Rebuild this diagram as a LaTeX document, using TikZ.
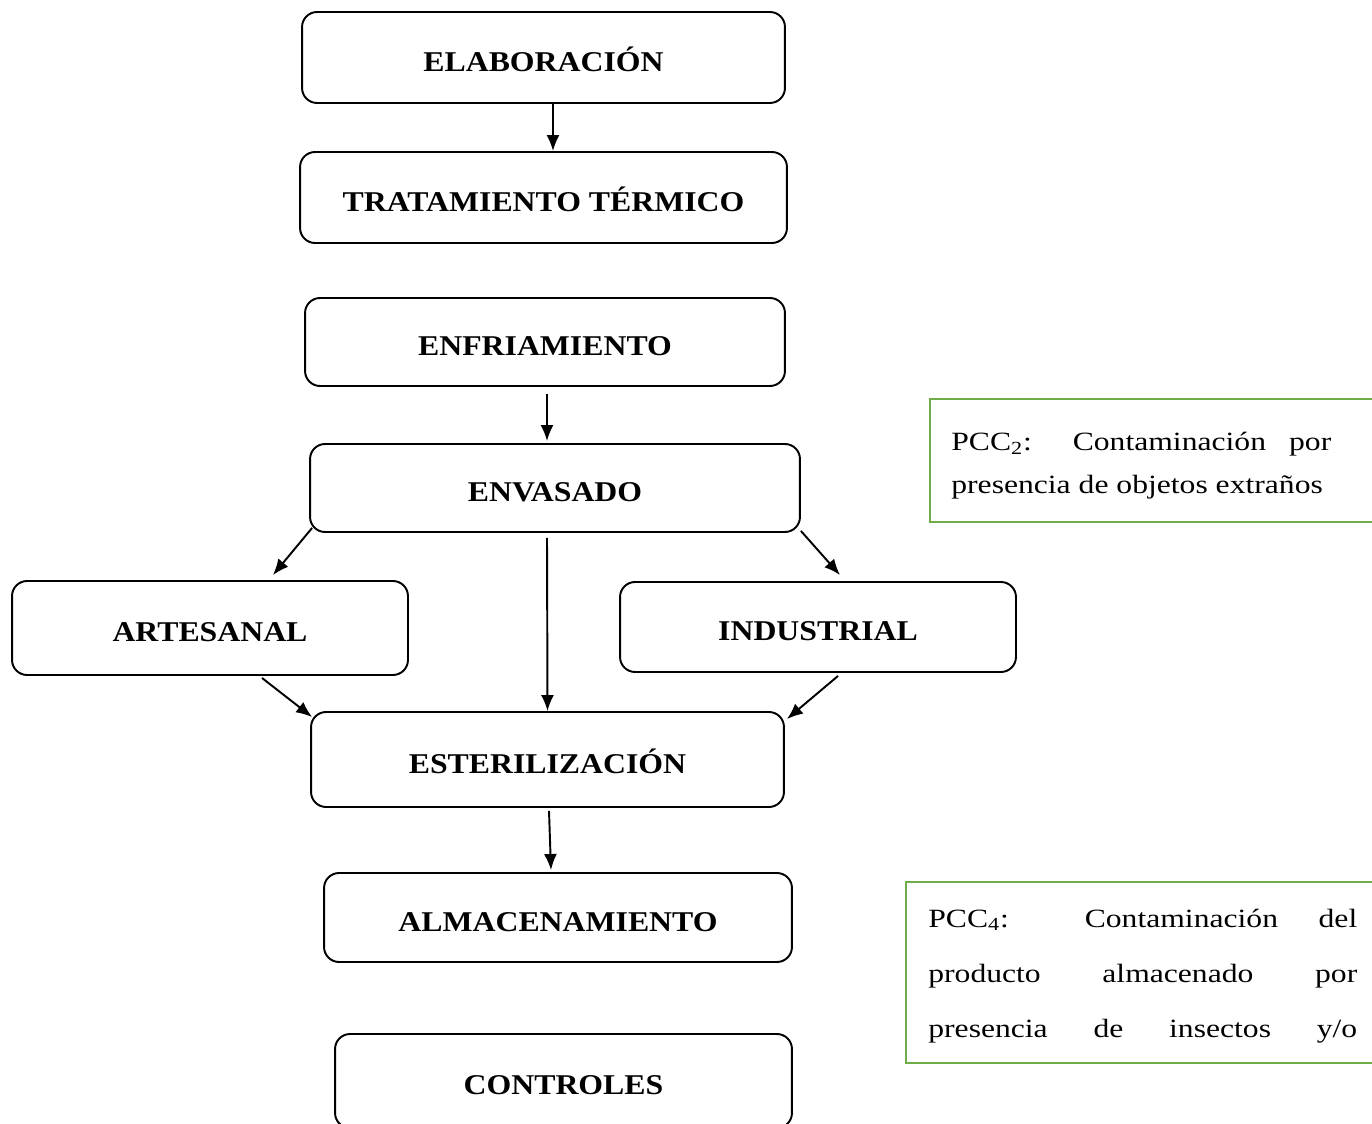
\documentclass[tikz,border=0pt]{standalone}
\usepackage{fontspec}
\setmainfont[FakeStretch=1.11]{Liberation Serif}
\newfontfamily\notefont[FakeStretch=1.2]{Liberation Serif}
\usetikzlibrary{arrows.meta}
\definecolor{notegreen}{RGB}{112,173,71}

\begin{document}
\begin{tikzpicture}[x=0.02cm,y=-0.02cm,
  stepbox/.style={draw, line width=1.1pt, rounded corners=0.3cm, inner sep=0pt,
    text height=15.4pt, text depth=0pt,
    font=\fontsize{16.3}{19}\selectfont\bfseries},
  arr/.style={line width=1.1pt, -{Latex[length=0.32cm,width=0.26cm]}},
  notebox/.style={draw=notegreen, line width=1.3pt},
  noteline/.style={anchor=base west, inner sep=0pt,
    font=\notefont\fontsize{15}{18}\selectfont}]
\useasboundingbox (0,0) rectangle (1372,1124);
\clip (0,0) rectangle (1372,1124);

% process steps
\node[stepbox, minimum width=9.66cm, minimum height=1.82cm] (elab)  at (543.5,57.5) {ELABORACIÓN};
\node[stepbox, minimum width=9.74cm, minimum height=1.82cm] (trat)  at (543.5,197.5) {TRATAMIENTO TÉRMICO};
\node[stepbox, minimum width=9.60cm, minimum height=1.76cm] (enfr)  at (545,342) {ENFRIAMIENTO};
\node[stepbox, minimum width=9.80cm, minimum height=1.76cm] (envas) at (555,488) {ENVASADO};
\node[stepbox, minimum width=7.92cm, minimum height=1.88cm] (arte)  at (210,628) {ARTESANAL};
\node[stepbox, minimum width=7.92cm, minimum height=1.80cm] (indu)  at (818,627) {INDUSTRIAL};
\node[stepbox, minimum width=9.46cm, minimum height=1.90cm] (este)  at (547.5,759.5) {ESTERILIZACIÓN};
\node[stepbox, minimum width=9.36cm, minimum height=1.78cm] (alma)  at (558,917.5) {ALMACENAMIENTO};
\node[stepbox, minimum width=9.14cm, minimum height=1.88cm] (ctrl)  at (563.5,1081) {CONTROLES};

% connectors
\draw[arr] ([xshift=0.19cm]elab.south) -- ([xshift=0.19cm]elab.south |- trat.north);
\draw[arr] ([xshift=0.04cm,yshift=-0.14cm]enfr.south) -- ([xshift=0.04cm,yshift=0.04cm]enfr.south |- envas.north);
\draw[arr] ([shift={(0.06cm,0.1cm)}]envas.south west) -- ([shift={(1.26cm,0.1cm)}]arte.north);
\draw[arr] ([shift={(-0.16cm,-0.1cm)}]envas.south) -- (este.north);
\draw[arr] ([shift={(0cm,0.04cm)}]envas.south east) -- ([shift={(0.44cm,0.12cm)}]indu.north);
\draw[arr] ([shift={(1.04cm,-0.04cm)}]arte.south) -- ([shift={(0.04cm,-0.12cm)}]este.north west);
\draw[arr] ([shift={(0.4cm,-0.06cm)}]indu.south) -- ([shift={(0.04cm,-0.16cm)}]este.north east);
\draw[arr] ([shift={(0.03cm,-0.06cm)}]este.south) -- ([shift={(-0.14cm,0.04cm)}]alma.north);

% critical control point notes
\draw[notebox] (930,399) rectangle (1400,522);
\node[noteline] (pcc2a) at (951,451) {\makebox[7.6cm][s]{PCC\textsubscript{2}: Contaminación por}};
\node[noteline] (pcc2b) at (951,494) {presencia de objetos extraños};

\draw[notebox] (906,882) rectangle (1400,1063);
\node[noteline] (pcc4a) at (928,927) {\makebox[8.58cm][s]{PCC\textsubscript{4}: Contaminación del}};
\node[noteline] (pcc4b) at (928,982) {\makebox[8.58cm][s]{producto almacenado por}};
\node[noteline] (pcc4c) at (928,1037) {\makebox[8.58cm][s]{presencia de insectos y/o}};
\end{tikzpicture}
\end{document}
